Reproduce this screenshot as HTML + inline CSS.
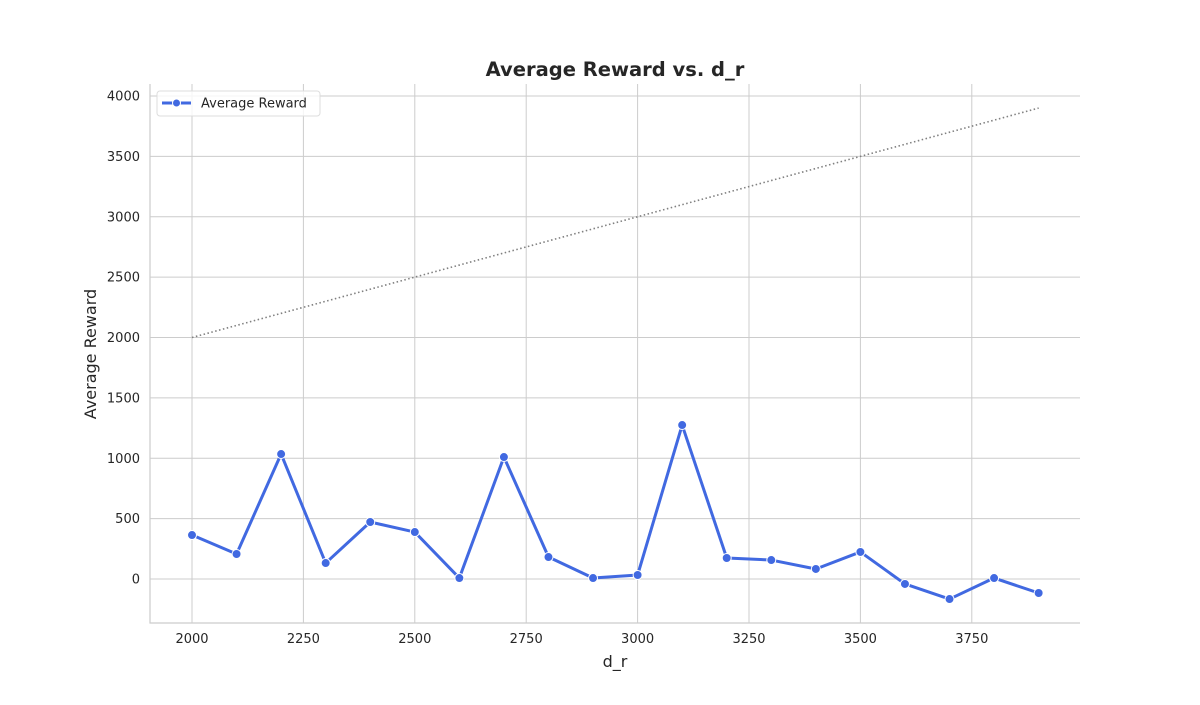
<!DOCTYPE html>
<html><head><meta charset="utf-8"><style>
body{margin:0;background:#fff;}
svg text{font-family:"DejaVu Sans","Liberation Sans",sans-serif;fill:#262626;}
</style></head><body>
<svg id="c" width="1200" height="700" xmlns="http://www.w3.org/2000/svg"></svg>
<script>
const xValues=[2000,2100,2200,2300,2400,2500,2600,2700,2800,2900,3000,3100,3200,3300,3400,3500,3600,3700,3800,3900];
const rewards=[364,207,1035,132,472,389,8,1010,182,8,33,1275,174,157,83,224,-41,-166,8,-116];
const xTicks=[2000,2250,2500,2750,3000,3250,3500,3750];
const yTicks=[0,500,1000,1500,2000,2500,3000,3500,4000];
const L=150,R=1080,T=84,B=623;
const X=v=>192+(v-2000)*0.4456;
const Y=v=>579-v*0.12075;
const svg=document.getElementById('c');
const NS='http://www.w3.org/2000/svg';
function mk(tag,attrs,parent){const e=document.createElementNS(NS,tag);for(const k in attrs)e.setAttribute(k,attrs[k]);(parent||svg).appendChild(e);return e;}
const grid=mk('g',{});


xTicks.forEach(t=>{mk('line',{x1:X(t),x2:X(t),y1:T,y2:B,stroke:'#cccccc','stroke-width':1},grid);
const tx=mk('text',{x:X(t),y:643,'text-anchor':'middle','font-size':13});tx.textContent=t;

});
yTicks.forEach(t=>{mk('line',{x1:L,x2:R,y1:Y(t),y2:Y(t),stroke:'#cccccc','stroke-width':1},grid);
const ty=mk('text',{x:140,y:Y(t)+4.5,'text-anchor':'end','font-size':13});ty.textContent=t;

});
const ax=mk('path',{d:`M${L},${T}V${B}H${R}`,fill:'none',stroke:'#cccccc','stroke-width':1.2});


const ref=mk('line',{x1:X(2000),y1:Y(2000),x2:X(3900),y2:Y(3900),stroke:'#808080','stroke-width':1.6,'stroke-dasharray':'1.5,2.5'});


const line=mk('polyline',{points:xValues.map((x,i)=>X(x)+','+Y(rewards[i])).join(' '),fill:'none',stroke:'#4169e1','stroke-width':3,'stroke-linejoin':'round'});


xValues.forEach((x,i)=>{const p=mk('circle',{cx:X(x),cy:Y(rewards[i]),r:4.5,fill:'#4169e1',stroke:'#fff','stroke-width':1});

});
const ti=mk('text',{x:615,y:76,'text-anchor':'middle','font-size':19.5,'font-weight':'bold'});ti.textContent='Average Reward vs. d_r';


const xl=mk('text',{x:615,y:667,'text-anchor':'middle','font-size':16});xl.textContent='d_r';


const yl=mk('text',{x:0,y:0,'text-anchor':'middle','font-size':16,transform:'translate(96,354) rotate(-90)'});yl.textContent='Average Reward';


const lg=mk('g',{});


mk('rect',{x:157,y:91,width:163,height:25,rx:3,fill:'#fff','fill-opacity':0.8,stroke:'#dddddd'},lg);
mk('line',{x1:162,x2:191,y1:103,y2:103,stroke:'#4169e1','stroke-width':3},lg);
mk('circle',{cx:176.5,cy:103,r:4,fill:'#4169e1',stroke:'#fff','stroke-width':1},lg);
const lt=mk('text',{x:201,y:107.5,'font-size':13},lg);lt.textContent='Average Reward';


</script>
</body></html>
